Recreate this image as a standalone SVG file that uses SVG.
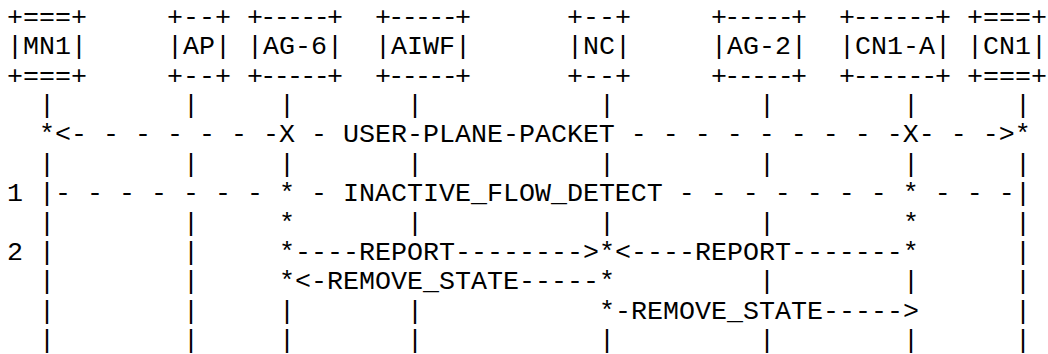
<svg xmlns="http://www.w3.org/2000/svg" width="1048" height="354" viewBox="0 0 1048 354" xml:space="preserve">
<style>
text{font-family:"Liberation Mono","Courier New",monospace;font-size:26.667px;fill:#000;white-space:pre}
</style>
<rect width="1048" height="354" fill="#fff"/>
<g id="node-MN1">
<text x="7" y="25">+===+</text>
<text x="7" y="54.36">|MN1|</text>
<text x="7" y="83.72">+===+</text>
<text><tspan x="39" y="113.08">|</tspan><tspan x="39" y="171.8">|</tspan><tspan x="39" y="201.16">|</tspan><tspan x="39" y="230.52">|</tspan><tspan x="39" y="259.88">|</tspan><tspan x="39" y="289.24">|</tspan><tspan x="39" y="318.6">|</tspan><tspan x="39" y="347.96">|</tspan></text>
</g>
<g id="node-AP">
<text x="167" y="25">+--+</text>
<text x="167" y="54.36">|AP|</text>
<text x="167" y="83.72">+--+</text>
<text><tspan x="183" y="113.08">|</tspan><tspan x="183" y="171.8">|</tspan><tspan x="183" y="230.52">|</tspan><tspan x="183" y="259.88">|</tspan><tspan x="183" y="289.24">|</tspan><tspan x="183" y="318.6">|</tspan><tspan x="183" y="347.96">|</tspan></text>
</g>
<g id="node-AG-6">
<text x="247 260.33 273.67 287 300.33 313.67 327" y="25">+-----+</text>
<text x="247" y="54.36">|AG-6|</text>
<text x="247 260.33 273.67 287 300.33 313.67 327" y="83.72">+-----+</text>
<text><tspan x="279" y="113.08">|</tspan><tspan x="279" y="171.8">|</tspan><tspan x="279" y="318.6">|</tspan><tspan x="279" y="347.96">|</tspan></text>
</g>
<g id="node-AIWF">
<text x="375 388.33 401.67 415 428.33 441.67 455" y="25">+-----+</text>
<text x="375" y="54.36">|AIWF|</text>
<text x="375 388.33 401.67 415 428.33 441.67 455" y="83.72">+-----+</text>
<text><tspan x="407" y="113.08">|</tspan><tspan x="407" y="171.8">|</tspan><tspan x="407" y="230.52">|</tspan><tspan x="407" y="318.6">|</tspan><tspan x="407" y="347.96">|</tspan></text>
</g>
<g id="node-NC">
<text x="567" y="25">+--+</text>
<text x="567" y="54.36">|NC|</text>
<text x="567" y="83.72">+--+</text>
<text><tspan x="599" y="113.08">|</tspan><tspan x="599" y="171.8">|</tspan><tspan x="599" y="230.52">|</tspan><tspan x="599" y="347.96">|</tspan></text>
</g>
<g id="node-AG-2">
<text x="711 724.33 737.67 751 764.33 777.67 791" y="25">+-----+</text>
<text x="711" y="54.36">|AG-2|</text>
<text x="711 724.33 737.67 751 764.33 777.67 791" y="83.72">+-----+</text>
<text><tspan x="759" y="113.08">|</tspan><tspan x="759" y="171.8">|</tspan><tspan x="759" y="230.52">|</tspan><tspan x="759" y="289.24">|</tspan><tspan x="759" y="347.96">|</tspan></text>
</g>
<g id="node-CN1-A">
<text x="839 852.71 866.43 880.14 893.86 907.57 921.29 935" y="25">+------+</text>
<text x="839" y="54.36">|CN1-A|</text>
<text x="839 852.71 866.43 880.14 893.86 907.57 921.29 935" y="83.72">+------+</text>
<text><tspan x="903" y="113.08">|</tspan><tspan x="903" y="171.8">|</tspan><tspan x="903" y="289.24">|</tspan><tspan x="903" y="347.96">|</tspan></text>
</g>
<g id="node-CN1">
<text x="967" y="25">+===+</text>
<text x="967" y="54.36">|CN1|</text>
<text x="967" y="83.72">+===+</text>
<text><tspan x="1015" y="113.08">|</tspan><tspan x="1015" y="171.8">|</tspan><tspan x="1015" y="201.16">|</tspan><tspan x="1015" y="230.52">|</tspan><tspan x="1015" y="259.88">|</tspan><tspan x="1015" y="289.24">|</tspan><tspan x="1015" y="318.6">|</tspan><tspan x="1015" y="347.96">|</tspan></text>
</g>
<g id="connectors">
<text x="39" y="142.44">*&lt;- - - - - - -X - USER-PLANE-PACKET - - - - - - - - -X- - -&gt;*</text>
<text x="55" y="201.16">- - - - - - - * - INACTIVE_FLOW_DETECT - - - - - - - * - - -</text>
<text x="279" y="230.52">*</text>
<text x="903" y="230.52">*</text>
<text x="279" y="259.88">*----REPORT--------&gt;*&lt;----REPORT-------*</text>
<text x="279" y="289.24">*&lt;-REMOVE_STATE-----*</text>
<text x="599" y="318.6">*-REMOVE_STATE-----&gt;</text>
</g>
<g id="step-labels">
<text x="7" y="201.16">1</text>
<text x="7" y="259.88">2</text>
</g>
</svg>
